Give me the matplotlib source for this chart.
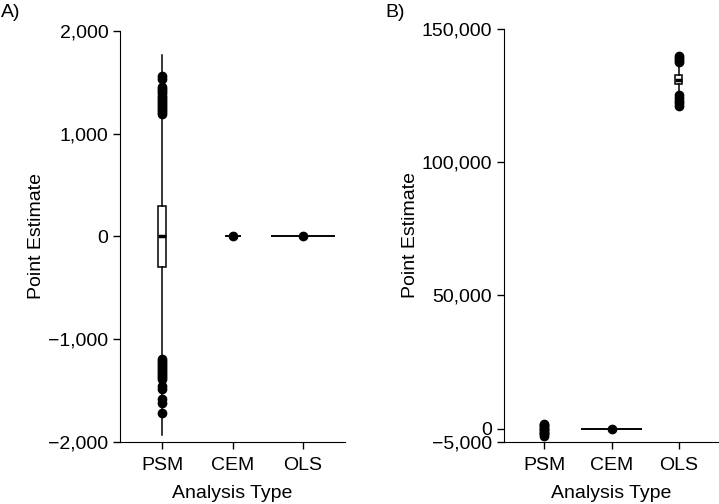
import matplotlib
matplotlib.use("Agg")
import matplotlib.pyplot as plt
from matplotlib.ticker import FuncFormatter

# analysis types
categories = ["PSM", "CEM", "OLS"]

# Panel A: box stats
a_q1 = [-295, 0, 0]
a_med = [0, 0, 0]
a_q3 = [300, 0, 0]
a_whislo = [-1930, 0, 0]
a_whishi = [1760, 0, 0]
a_fliers = [
    [1190, 1210, 1230, 1250, 1270, 1290, 1310, 1330, 1350, 1370, 1390, 1410,
     1430, 1450, 1530, 1560,
     -1190, -1210, -1230, -1250, -1270, -1290, -1310, -1330, -1350, -1370,
     -1390, -1460, -1480, -1580, -1620, -1720],
    [0],
    [0],
]
a_widths = [0.11, 0.23, 0.91]
a_yticks = [-2000, -1000, 0, 1000, 2000]

# Panel B
b_q1 = [-300, 0, 129200]
b_med = [0, 0, 130700]
b_q3 = [300, 0, 132700]
b_whislo = [-2600, 0, 121000]
b_whishi = [1900, 0, 140000]
b_fliers = [
    [-2600, -2100, -1600, -1100, -600, -100, 400, 900, 1400, 1900],
    [0],
    [121000, 122000, 123000, 124000, 125000,
     137400, 138200, 139000, 139800],
]
b_widths = [0.11, 0.9, 0.11]
b_yticks = [-5000, 0, 50000, 100000, 150000]

plt.rcParams["font.family"] = ["Liberation Sans", "DejaVu Sans"]
plt.rcParams["font.size"] = 14


def fmt(x, pos):
    return f"{x:,.0f}".replace("-", "\u2212")


def panel(ax, q1, med, q3, lo, hi, fl, widths, yticks, ylim):
    stats = []
    for i in range(len(categories)):
        stats.append(dict(q1=q1[i], med=med[i], q3=q3[i], whislo=lo[i],
                          whishi=hi[i], fliers=fl[i], label=categories[i]))
    bp = ax.bxp(stats, positions=range(len(categories)), widths=widths,
                showcaps=False, patch_artist=True,
                boxprops=dict(facecolor="white", edgecolor="black", linewidth=1.1),
                whiskerprops=dict(color="black", linewidth=1.1),
                medianprops=dict(color="black", linewidth=1.2),
                flierprops=dict(marker="o", markerfacecolor="black",
                                markeredgecolor="black", markersize=6))
    # thicker median where the box has height
    for i, m in enumerate(bp["medians"]):
        if q3[i] - q1[i] > (ylim[1] - ylim[0]) * 0.005:
            m.set_linewidth(2.5)
    ax.set_xlim(-0.6, 2.6)
    ax.set_ylim(*ylim)
    ax.set_yticks(yticks)
    ax.yaxis.set_major_formatter(FuncFormatter(fmt))
    ax.spines["top"].set_visible(False)
    ax.spines["right"].set_visible(False)
    ax.tick_params(direction="out", length=5, width=1, colors="black")
    ax.tick_params(axis="x", pad=6)
    ax.set_xlabel("Analysis Type", labelpad=8)
    ax.set_ylabel("Point Estimate", labelpad=2)


fig = plt.figure(figsize=(7.19, 5.04), dpi=100)
ax1 = fig.add_axes([0.167, 0.123, 0.313, 0.816])
ax2 = fig.add_axes([0.701, 0.123, 0.299, 0.820])

panel(ax1, a_q1, a_med, a_q3, a_whislo, a_whishi, a_fliers, a_widths,
      a_yticks, (-2000, 2000))
panel(ax2, b_q1, b_med, b_q3, b_whislo, b_whishi, b_fliers, b_widths,
      b_yticks, (-5000, 150000))

fig.text(0.001, 0.976, "A)", va="center", ha="left")
fig.text(0.536, 0.976, "B)", va="center", ha="left")

fig.savefig("out.png", dpi=100)
